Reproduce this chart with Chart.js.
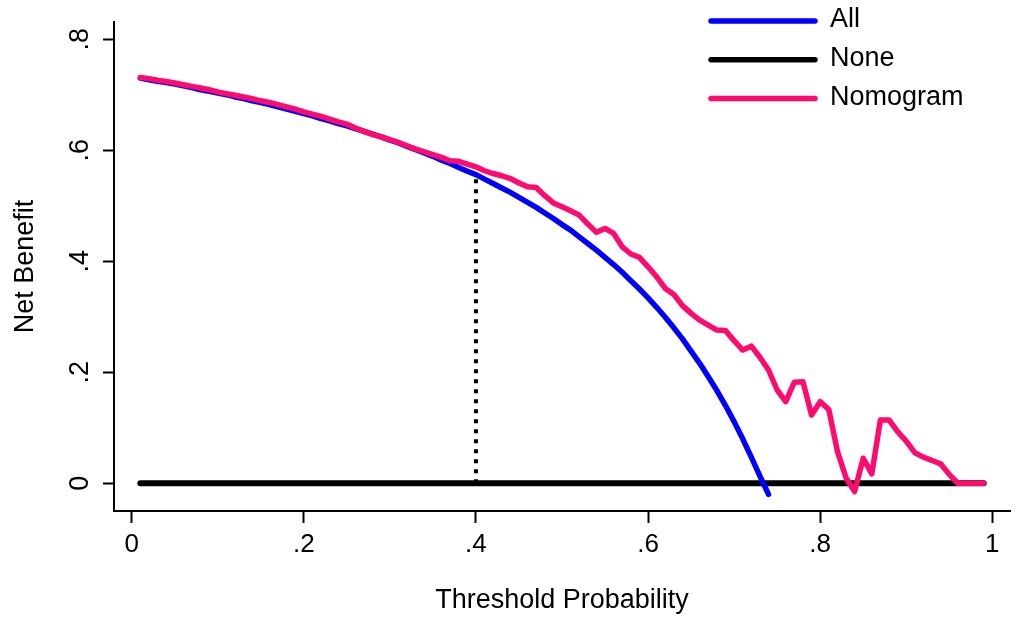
<!DOCTYPE html>
<html>
<head>
<meta charset="utf-8">
<title>Decision curve</title>
<script src="https://cdn.jsdelivr.net/npm/chart.js@4/dist/chart.umd.min.js"></script>
<style>
  body { margin: 0; background: #fff; }
  #wrap { width: 1021px; height: 623px; }
</style>
</head>
<body>
<div id="wrap"><canvas id="grafico" width="1021" height="623"></canvas></div>
<script>
// threshold probabilities
const limiaresAll = [0.01,0.02,0.03,0.04,0.05,0.06,0.07,0.08,0.09,0.10,0.11,0.12,0.13,0.14,0.15,0.16,0.17,0.18,0.19,0.20,
  0.21,0.22,0.23,0.24,0.25,0.26,0.27,0.28,0.29,0.30,0.31,0.32,0.33,0.34,0.35,0.36,0.37,0.38,0.39,0.40,
  0.41,0.42,0.43,0.44,0.45,0.46,0.47,0.48,0.49,0.50,0.51,0.52,0.53,0.54,0.55,0.56,0.57,0.58,0.59,0.60,
  0.61,0.62,0.63,0.64,0.65,0.66,0.67,0.68,0.69,0.70,0.71,0.72,0.73,0.74];
const beneficioAll = [0.730,0.727,0.724,0.722,0.719,0.716,0.713,0.709,0.706,0.703,0.700,0.696,0.693,0.689,0.686,0.682,0.678,0.674,0.670,0.666,
  0.662,0.657,0.653,0.648,0.644,0.639,0.634,0.629,0.624,0.618,0.613,0.607,0.601,0.595,0.589,0.582,0.576,0.569,0.562,0.556,
  0.548,0.540,0.532,0.524,0.515,0.506,0.497,0.487,0.477,0.466,0.456,0.444,0.432,0.420,0.407,0.394,0.380,0.365,0.350,0.334,
  0.317,0.299,0.280,0.260,0.238,0.216,0.192,0.167,0.140,0.111,0.080,0.047,0.013,-0.020];

const limiaresNomo = [0.01,0.02,0.03,0.04,0.05,0.06,0.07,0.08,0.09,0.10,0.11,0.12,0.13,0.14,0.15,0.16,0.17,0.18,0.19,0.20,
  0.21,0.22,0.23,0.24,0.25,0.26,0.27,0.28,0.29,0.30,0.31,0.32,0.33,0.34,0.35,0.36,0.37,0.38,0.39,0.40,
  0.41,0.42,0.43,0.44,0.45,0.46,0.47,0.48,0.49,0.50,0.51,0.52,0.53,0.54,0.55,0.56,0.57,0.58,0.59,0.60,
  0.61,0.62,0.63,0.64,0.65,0.66,0.67,0.68,0.69,0.70,0.71,0.72,0.73,0.74,0.75,0.76,0.77,0.78,0.79,0.80,
  0.81,0.82,0.83,0.84,0.85,0.86,0.87,0.88,0.89,0.90,0.91,0.92,0.93,0.94,0.95,0.96,0.97,0.98,0.99];
const beneficioNomo = [0.731,0.729,0.726,0.724,0.721,0.718,0.715,0.712,0.709,0.705,0.702,0.699,0.696,0.693,0.689,0.686,0.682,0.678,0.674,0.669,
  0.665,0.661,0.656,0.651,0.647,0.640,0.634,0.628,0.624,0.619,0.614,0.608,0.602,0.597,0.592,0.587,0.581,0.580,0.575,0.570,
  0.563,0.558,0.554,0.549,0.541,0.534,0.533,0.518,0.505,0.498,0.491,0.483,0.467,0.452,0.459,0.450,0.426,0.413,0.407,0.390,
  0.372,0.351,0.340,0.320,0.306,0.294,0.285,0.276,0.275,0.257,0.240,0.247,0.227,0.204,0.168,0.147,0.182,0.183,0.123,0.147,
  0.133,0.058,0.010,-0.015,0.045,0.017,0.114,0.114,0.093,0.076,0.055,0.047,0.041,0.035,0.016,0,0,0,0];

const limiaresNone = [0.01, 0.99];
const beneficioNone = [0, 0];

// vertical dotted marker at pt = .4
const marcadorX = [0.4, 0.4];
const marcadorY = [0, 0.554];

const xTicks = [0, 0.2, 0.4, 0.6, 0.8, 1];
const xTickLabels = ["0", ".2", ".4", ".6", ".8", "1"];
const yTicks = [0, 0.2, 0.4, 0.6, 0.8];
const yTickLabels = ["0", ".2", ".4", ".6", ".8"];

const nomesSeries = ["All", "None", "Nomogram"];
const coresSeries = ["#0000ff", "#000000", "#ff0a6e"];

const fonte = "'Liberation Sans', Arial, sans-serif";

function pares(xs, ys) {
    return xs.map((x, i) => ({ x: x, y: ys[i] }));
}

// y tick labels are rotated like Stata draws them
const rotuloY = {
    id: "rotuloY",
    afterDraw(chart) {
        const ctx = chart.ctx;
        const y = chart.scales.y;
        ctx.save();
        ctx.fillStyle = "#000";
        ctx.font = "27px " + fonte;
        ctx.textAlign = "center";
        ctx.textBaseline = "middle";
        yTicks.forEach((v, i) => {
            const py = y.getPixelForValue(v);
            ctx.save();
            ctx.translate(81, py);
            ctx.rotate(-Math.PI / 2);
            ctx.fillText(yTickLabels[i], 0, 0);
            ctx.restore();
        });
        ctx.restore();
    }
};

// legend in a column at the top right
const legenda = {
    id: "legenda",
    afterDraw(chart) {
        const ctx = chart.ctx;
        ctx.save();
        nomesSeries.forEach((nome, i) => {
            const ly = 21 + i * 38.7;
            ctx.strokeStyle = coresSeries[i];
            ctx.lineWidth = 5.5;
            ctx.lineCap = "round";
            ctx.beginPath();
            ctx.moveTo(711, ly);
            ctx.lineTo(815, ly);
            ctx.stroke();
            ctx.fillStyle = "#000";
            ctx.font = "27px " + fonte;
            ctx.textAlign = "left";
            ctx.textBaseline = "middle";
            ctx.fillText(nome, 830, ly - 1);
        });
        ctx.restore();
    }
};

const canvas = document.getElementById("grafico");

const grafico = new Chart(canvas, {
    type: "line",
    data: {
        datasets: [
            {
                label: nomesSeries[0],
                data: pares(limiaresAll, beneficioAll),
                borderColor: coresSeries[0],
                borderWidth: 5.5,
                order: 1
            },
            {
                label: nomesSeries[1],
                data: pares(limiaresNone, beneficioNone),
                borderColor: coresSeries[1],
                borderWidth: 6,
                order: 2
            },
            {
                label: nomesSeries[2],
                data: pares(limiaresNomo, beneficioNomo),
                borderColor: coresSeries[2],
                borderWidth: 5.5,
                order: 0
            },
            {
                label: "marcador",
                data: pares(marcadorX, marcadorY),
                borderColor: "#000",
                borderWidth: 4,
                borderDash: [4, 6],
                borderCapStyle: "butt",
                order: 3
            }
        ]
    },
    options: {
        responsive: false,
        animation: false,
        devicePixelRatio: 1,
        layout: { padding: { top: 22, right: 11, left: 0, bottom: 0 } },
        elements: {
            point: { radius: 0, hoverRadius: 0 },
            line: { tension: 0, fill: false, borderCapStyle: "round", borderJoinStyle: "round" }
        },
        plugins: {
            legend: { display: false },
            tooltip: { enabled: false }
        },
        scales: {
            x: {
                type: "linear",
                min: -0.0206,
                max: 1.0206,
                afterFit(scale) { scale.height = 112; },
                afterBuildTicks(scale) { scale.ticks = xTicks.map(v => ({ value: v })); },
                border: { display: true, color: "#000", width: 2 },
                grid: { drawOnChartArea: false, drawTicks: true, tickLength: 12, tickWidth: 2, tickColor: "#000" },
                ticks: {
                    color: "#000",
                    padding: 6,
                    maxRotation: 0,
                    font: { family: fonte, size: 26 },
                    callback: (v) => xTickLabels[xTicks.indexOf(v)]
                },
                title: {
                    display: true,
                    text: "Threshold Probability",
                    color: "#000",
                    font: { family: fonte, size: 27 },
                    padding: { top: 0, bottom: 6 }
                }
            },
            y: {
                type: "linear",
                min: -0.05,
                max: 0.831,
                afterFit(scale) { scale.width = 114; },
                afterBuildTicks(scale) { scale.ticks = yTicks.map(v => ({ value: v })); },
                border: { display: true, color: "#000", width: 2 },
                grid: { drawOnChartArea: false, drawTicks: true, tickLength: 11, tickWidth: 2, tickColor: "#000" },
                ticks: { display: false },
                title: {
                    display: true,
                    text: "Net Benefit",
                    color: "#000",
                    font: { family: fonte, size: 27 },
                    padding: { top: 9, bottom: 0 }
                }
            }
        }
    },
    plugins: [rotuloY, legenda]
});
</script>
</body>
</html>
